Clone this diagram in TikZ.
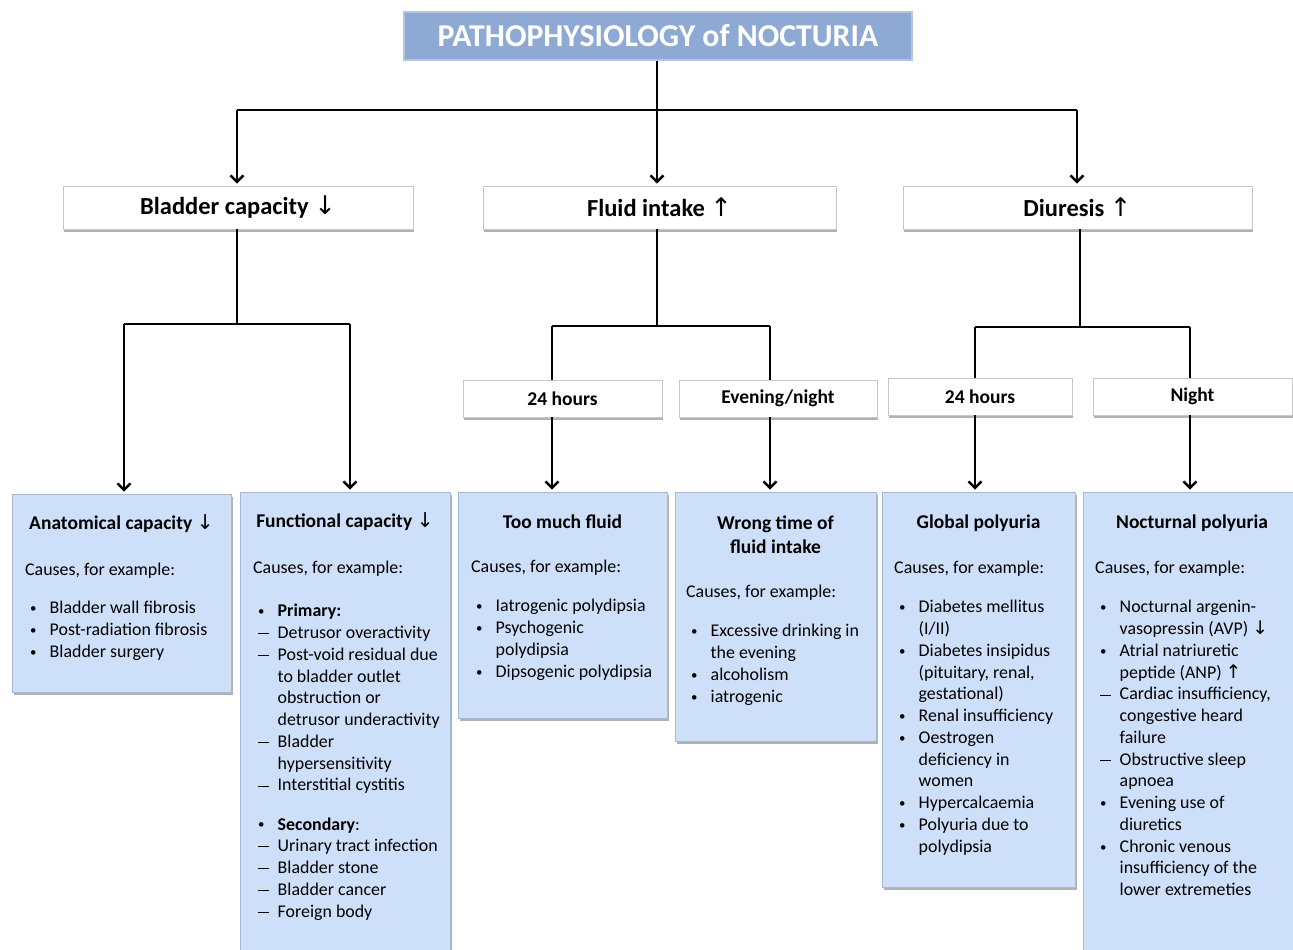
\documentclass[tikz,border=0pt]{standalone}
\usepackage{fontspec}
\usepackage{graphicx}
\setmainfont{Carlito}
\newfontfamily\arrf{DejaVu Sans}
\usetikzlibrary{arrows.meta,shadows}
\definecolor{titleblue}{RGB}{142,170,212}
\definecolor{titleedge}{RGB}{178,198,228}
\definecolor{boxblue}{RGB}{206,224,249}
\definecolor{boxedge}{RGB}{165,186,214}
\newcommand\dnar{{\arrf\mdseries\scalebox{1.05}{↓}}}
\newcommand\upar{{\arrf\mdseries\scalebox{1.05}{↑}}}
\newcommand\bu{\hspace*{5pt}\makebox[19.5pt][l]{\raisebox{1.2pt}{\scalebox{0.72}{•}}}}
\newcommand\da{\hspace*{5pt}\makebox[19.5pt][l]{\rule[4.6pt]{11pt}{0.8pt}}}
\newcommand\ct{\hspace*{24.5pt}}
\tikzset{
  ln/.style={line width=2.4pt, black},
  arr/.style={ln, -{Straight Barb[length=6.5pt,width=13pt]}, shorten >=2pt},
  titlebox/.style={fill=titleblue, draw=titleedge, line width=1.5pt, text=white,
    font=\bfseries\fontsize{31.8}{36}\selectfont, inner sep=0pt},
  whitebox/.style={fill=white, draw=black!22, line width=0.8pt, inner sep=0pt,
    drop shadow={shadow xshift=1pt, shadow yshift=-3pt, fill=black!55, opacity=0.55}},
  bluebox/.style={fill=boxblue, draw=boxedge, line width=0.8pt, inner sep=0pt,
    drop shadow={shadow xshift=1.5pt, shadow yshift=-3pt, fill=black!55, opacity=0.55}},
  lvone/.style={font=\bfseries\fontsize{24.5}{29}\selectfont},
  lvtwo/.style={font=\bfseries\fontsize{19.5}{23}\selectfont},
  hd/.style={font=\bfseries\fontsize{19.5}{24}\selectfont, align=center, inner sep=0pt},
  bd/.style={font=\fontsize{17.9}{21.75}\selectfont, align=left, anchor=north west, inner sep=0pt},
}
\begin{document}
\begin{tikzpicture}[x=1pt,y=-1pt]
\useasboundingbox (0,0) rectangle (1293,950);
\fill[white] (0,0) rectangle (1293,950);

% title
\node[titlebox, minimum width=508pt, minimum height=48pt] (title) at (658,36) {PATHOPHYSIOLOGY of NOCTURIA};

% level 1
\node[whitebox, lvone, minimum width=350pt, minimum height=43pt] (bladder) at (238,207.5) {Bladder capacity \dnar};
\node[whitebox, lvone, minimum width=353pt, minimum height=43pt] (fluid) at (659.5,207.5) {Fluid intake \upar};
\node[whitebox, lvone, minimum width=349pt, minimum height=43pt] (diuresis) at (1077.5,207.5) {Diuresis \upar};

% level 2
\node[whitebox, lvtwo, minimum width=199pt, minimum height=37pt] (fh) at (562.5,398.5) {24 hours};
\node[whitebox, lvtwo, minimum width=198pt, minimum height=37pt] (fe) at (778,398.5) {Evening/night};
\node[whitebox, lvtwo, minimum width=184pt, minimum height=37pt] (dh) at (980,396.5) {24 hours};
\node[whitebox, lvtwo, minimum width=199pt, minimum height=37pt] (dnight) at (1192.5,396.5) {Night};

% bottom boxes
\node[bluebox, minimum width=219pt, minimum height=198pt] (anat) at (121.5,593) {};
\node[bluebox, minimum width=210pt, minimum height=463pt] (func) at (345,723.5) {};
\node[bluebox, minimum width=209pt, minimum height=226pt] (tmf) at (562.5,605) {};
\node[bluebox, minimum width=201pt, minimum height=249pt] (wt) at (775.5,616.5) {};
\node[bluebox, minimum width=193pt, minimum height=395pt] (glob) at (978.5,689.5) {};
\node[bluebox, minimum width=213pt, minimum height=463pt] (noct) at (1189.5,723.5) {};

% headers
\node[hd] (anatH) at (121.5,524) {Anatomical capacity \dnar};
\node[hd] (funcH) at (345,522) {Functional capacity \dnar};
\node[hd] (tmfH) at (562.5,522) {Too much fluid};
\node[hd] (wtH) at (775.5,535) {Wrong time of\\fluid intake};
\node[hd] (globH) at (978.5,523) {Global polyuria};
\node[hd] (noctH) at (1192,523) {Nocturnal polyuria};

% bodies
\node[bd] (anatB) at (25,563.3) {Causes, for example:\\[16.3pt]
\bu Bladder wall fibrosis\\
\bu Post-radiation fibrosis\\
\bu Bladder surgery};

\node[bd] (funcB) at (253,561.3) {Causes, for example:\\[21.3pt]
\bu \textbf{Primary:}\\
\da Detrusor overactivity\\
\da Post-void residual due\\
\ct to bladder outlet\\
\ct obstruction or\\
\ct detrusor underactivity\\
\da Bladder\\
\ct hypersensitivity\\
\da Interstitial cystitis\\[17.3pt]
\bu \textbf{Secondary}:\\
\da Urinary tract infection\\
\da Bladder stone\\
\da Bladder cancer\\
\da Foreign body};

\node[bd] (tmfB) at (471,560.3) {Causes, for example:\\[17.3pt]
\bu Iatrogenic polydipsia\\
\bu Psychogenic\\
\ct polydipsia\\
\bu Dipsogenic polydipsia};

\node[bd] (wtB) at (686,585.3) {Causes, for example:\\[17.3pt]
\bu Excessive drinking in\\
\ct the evening\\
\bu alcoholism\\
\bu iatrogenic};

\node[bd] (globB) at (894,561.3) {Causes, for example:\\[17.3pt]
\bu Diabetes mellitus\\
\ct (I/II)\\
\bu Diabetes insipidus\\
\ct (pituitary, renal,\\
\ct gestational)\\
\bu Renal insufficiency\\
\bu Oestrogen\\
\ct deficiency in\\
\ct women\\
\bu Hypercalcaemia\\
\bu Polyuria due to\\
\ct polydipsia};

\node[bd] (noctB) at (1095,561.3) {Causes, for example:\\[17.3pt]
\bu Nocturnal argenin-\\
\ct vasopressin (AVP) \dnar\\
\bu Atrial natriuretic\\
\ct peptide (ANP) \upar\\
\da Cardiac insufficiency,\\
\ct congestive heard\\
\ct failure\\
\da Obstructive sleep\\
\ct apnoea\\
\bu Evening use of\\
\ct diuretics\\
\bu Chronic venous\\
\ct insufficiency of the\\
\ct lower extremeties};

% connectors: top
\coordinate (j0) at (657,110);
\draw[ln] (j0 |- title.south) -- (j0);
\coordinate (a1) at (237,110);
\coordinate (a3) at (1077,110);
\draw[ln] (a1) -- (a3);
\draw[arr] (a1) -- (a1 |- bladder.north);
\draw[arr] (j0) -- (j0 |- fluid.north);
\draw[arr] (a3) -- (a3 |- diuresis.north);

% bladder branch
\coordinate (j1) at (237,324);
\coordinate (b1) at (124,324);
\coordinate (b2) at (350,324);
\draw[ln] (j1 |- bladder.south) -- (j1);
\draw[ln] (b1) -- (b2);
\draw[arr] (b1) -- (b1 |- anat.north);
\draw[arr] (b2) -- (b2 |- func.north);

% fluid branch
\coordinate (j2) at (657,326);
\coordinate (c1) at (552,326);
\coordinate (c2) at (770,326);
\draw[ln] (j2 |- fluid.south) -- (j2);
\draw[ln] (c1) -- (c2);
\draw[ln] (c1) -- (c1 |- fh.north);
\draw[ln] (c2) -- (c2 |- fe.north);
\coordinate (c1s) at (c1 |- fh.south);
\coordinate (c2s) at (c2 |- fe.south);
\draw[arr] (c1s) -- (c1s |- tmf.north);
\draw[arr] (c2s) -- (c2s |- wt.north);

% diuresis branch
\coordinate (j3) at (1080,327);
\coordinate (d1) at (975,327);
\coordinate (d2) at (1190,327);
\draw[ln] (j3 |- diuresis.south) -- (j3);
\draw[ln] (d1) -- (d2);
\draw[ln] (d1) -- (d1 |- dh.north);
\draw[ln] (d2) -- (d2 |- dnight.north);
\coordinate (d1s) at (d1 |- dh.south);
\coordinate (d2s) at (d2 |- dnight.south);
\draw[arr] (d1s) -- (d1s |- glob.north);
\draw[arr] (d2s) -- (d2s |- noct.north);
\end{tikzpicture}
\end{document}
